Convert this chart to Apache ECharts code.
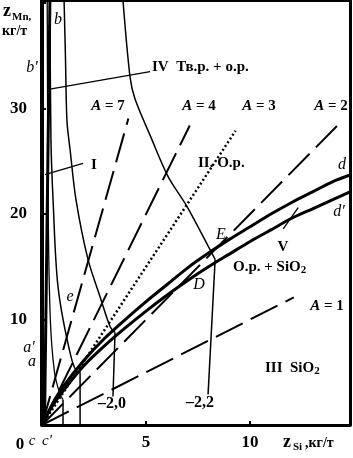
<!DOCTYPE html>
<html><head><meta charset="utf-8">
<script src="https://cdn.jsdelivr.net/npm/echarts@6/dist/echarts.min.js"></script>
<style>html,body{margin:0;padding:0;background:#fff}#c{width:353px;height:458px}</style>
</head><body><div id="c"></div>
<script>
// ---- data ----
const xTickValues = [5, 10];
const yTickValues = [10, 20, 30];
const aLabels = ['A = 7', 'A = 4', 'A = 3', 'A = 2', 'A = 1'];
const isoLabels = ['–2,0', '–2,2'];
const regionLabels = ['I', 'II. О.р.', 'III  SiO', 'IV  Тв.р. + о.р.', 'V', 'О.р. + SiO'];

const lineA7 = [[0, 0], [4.15, 29.05]];
const lineA4 = [[0, 0], [7.1, 28.4]];
const lineA3 = [[0, 0], [9.3, 27.9]];
const lineA2 = [[0, 0], [14.3, 28.6]];
const lineA1 = [[0, 0], [12.1, 12.1]];

const curveD = [[0,0],[0.5,2.0],[1,3.6],[2,6.1],[3,8.2],[4,10.0],[5,11.7],[6,13.3],[7,14.9],[8,16.3],[9,17.6],[10,18.8],[11,20.0],[12,21.1],[13,22.1],[14,23.1],[14.8,23.7]];
const curveD2 = [[0,0],[0.5,1.8],[1,3.2],[2,5.6],[3,7.5],[4,9.2],[5,10.8],[6,12.3],[7,13.7],[8,15.0],[9,16.2],[10,17.4],[11,18.5],[12,19.6],[13,20.5],[14,21.4],[14.8,22.1]];
const lineB2 = [[0.12, 0], [0.38, 40.2]];

const iso20Upper = [[1.06,40.3],[1.13,34.6],[1.20,28.8],[1.35,26.1],[1.63,21.4],[2.21,15.7],[2.75,12.4],[3.27,9.34],[3.51,8.77]];
const iso20Lower = [[3.51,8.77],[3.41,2.7]];
const iso22Upper = [[3.89,40.3],[4.23,33.0],[4.47,30.9],[5.25,27.2],[6.06,23.55],[6.97,20.7],[8.08,16.6],[8.32,15.7]];
const iso22Lower = [[8.32,15.7],[7.98,2.9]];
const isoC2Upper = [[0.38,40.3],[0.43,27.1],[0.53,21.4],[0.77,13.1],[1.39,6.5],[1.73,5.0],[1.83,5.0]];
const isoC2Lower = [[1.83,5.0],[1.83,0]];
const isoCUpper = [[0.25,40.3],[0.3,20],[0.4,10],[0.6,5],[0.85,3.0],[1.01,2.4]];
const isoCLower = [[1.01,2.4],[1.01,0]];

const leaderIV = [[0.24,31.8],[5.19,33.5]];
const leaderI = [[0.14,23.75],[1.97,24.8]];
const leaderV = [[11.59,18.6],[12.31,20.6]];

// ---- chart ----
const SERIF = '"Liberation Serif", "DejaVu Serif", serif';
function ln(data, width, type, smooth) {
  return {type:'line', data:data, showSymbol:false, symbol:'none', smooth: smooth || false,
    silent:true, animation:false, xAxisIndex:0, yAxisIndex:0,
    lineStyle:{color:'#000', width:width, type:type || 'solid', cap: type==='dotted' ? 'butt' : 'butt'}};
}
const DASH = [30, 9];
const DOT = [2, 2.5];

function txt(x, y, text, font, align, extra) {
  const s = Object.assign({text:text, font:font, fill:'#000',
    textAlign:align || 'center', align:align || 'center',
    textVerticalAlign:'middle', verticalAlign:'middle'}, extra || {});
  return {type:'text', x:x, y:y, silent:true, style:s};
}
const F_BOLD = (n) => 'bold ' + n + 'px ' + SERIF;
const F_IT = (n) => 'italic ' + n + 'px ' + SERIF;
const richA = {i:{font:'italic bold 15px ' + SERIF, fill:'#000'}};
const richSub = {m:{font:F_BOLD(15), fill:'#000', lineHeight:18, verticalAlign:'middle'},
                 s:{font:F_BOLD(11), fill:'#000', lineHeight:18, verticalAlign:'bottom'}};
function aText(s){ return s.replace('A', '{i|A}'); }

const chart = echarts.init(document.getElementById('c'), null, {renderer:'canvas'});
chart.setOption({
  animation:false,
  backgroundColor:'#fff',
  grid:{left:42, right:3, top:1, bottom:33},
  xAxis:[{
    type:'value', min:0, max:14.8, interval:5,
    axisLine:{onZero:false, lineStyle:{color:'#000', width:3}},
    axisTick:{inside:true, length:4, lineStyle:{color:'#000', width:2}},
    splitLine:{show:false},
    axisLabel:{margin:9, color:'#000', fontFamily:SERIF, fontWeight:'bold', fontSize:17,
      showMaxLabel:false,
      formatter:(v)=> xTickValues.indexOf(v) >= 0 ? String(v) : ''}
  },{
    type:'value', position:'top', min:0, max:1,
    axisLine:{onZero:false, lineStyle:{color:'#000', width:2}},
    axisTick:{show:false}, axisLabel:{show:false}, splitLine:{show:false}
  }],
  yAxis:[{
    type:'value', min:0, max:40.2, interval:10,
    axisLine:{onZero:false, lineStyle:{color:'#000', width:4}},
    axisTick:{inside:true, length:4, lineStyle:{color:'#000', width:2}},
    splitLine:{show:false},
    axisLabel:{margin:15, color:'#000', fontFamily:SERIF, fontWeight:'bold', fontSize:17,
      showMaxLabel:false,
      formatter:(v)=> yTickValues.indexOf(v) >= 0 ? String(v) : ''}
  },{
    type:'value', position:'right', min:0, max:1,
    axisLine:{onZero:false, lineStyle:{color:'#000', width:3}},
    axisTick:{show:false}, axisLabel:{show:false}, splitLine:{show:false}
  }],
  series:[
    ln(lineA7, 2, DASH), ln(lineA4, 2, DASH), ln(lineA3, 2.5, DOT), ln(lineA2, 2, DASH), ln(lineA1, 2, DASH),
    ln(curveD, 3, 'solid', 0.3), ln(curveD2, 3, 'solid', 0.3),
    ln(lineB2, 3),
    ln(iso20Upper, 1.5, 'solid', 0.3), ln(iso20Lower, 1.5),
    ln(iso22Upper, 1.5, 'solid', 0.3), ln(iso22Lower, 1.5),
    ln(isoC2Upper, 1.5, 'solid', 0.3), ln(isoC2Lower, 1.5),
    ln(isoCUpper, 1.3, 'solid', 0.3), ln(isoCLower, 1.5),
    ln(leaderIV, 1.3), ln(leaderI, 1.3), ln(leaderV, 1.3)
  ],
  graphic:[
    // axis titles
    txt(3, 11, 'z', F_BOLD(18), 'left'),
    txt(12, 17, 'Mn,', F_BOLD(11), 'left'),
    txt(2, 31, 'кг/т', F_BOLD(14), 'left'),
    txt(283, 442, 'z', F_BOLD(18), 'left'),
    txt(293, 447, 'Si', F_BOLD(11), 'left'),
    txt(305, 443, ',кг/т', F_BOLD(14), 'left'),
    txt(20, 445, '0', F_BOLD(17)),
    txt(32, 441, 'c', F_IT(15)),
    txt(47, 441, 'c′', F_IT(15)),
    // curve letters
    txt(58, 20, 'b', F_IT(16)),
    txt(32, 68, 'b′', F_IT(16)),
    txt(29, 348, 'a′', F_IT(16)),
    txt(32, 362, 'a', F_IT(16)),
    txt(70, 297, 'e', F_IT(16)),
    txt(342, 165, 'd', F_IT(16)),
    txt(339, 212, 'd′', F_IT(16)),
    txt(221, 235, 'E', F_IT(16)),
    txt(199, 285, 'D', F_IT(16)),
    // A labels
    txt(108, 106, aText(aLabels[0]), F_BOLD(15), 'center', {rich:richA}),
    txt(199, 106, aText(aLabels[1]), F_BOLD(15), 'center', {rich:richA}),
    txt(259, 106, aText(aLabels[2]), F_BOLD(15), 'center', {rich:richA}),
    txt(331, 106, aText(aLabels[3]), F_BOLD(15), 'center', {rich:richA}),
    txt(327, 306, aText(aLabels[4]), F_BOLD(15), 'center', {rich:richA}),
    // iso labels
    txt(112, 404, isoLabels[0], F_BOLD(16)),
    txt(200, 403, isoLabels[1], F_BOLD(16)),
    // region labels
    txt(94, 165, regionLabels[0], F_BOLD(15)),
    txt(198, 163, regionLabels[1], F_BOLD(15), 'left'),
    txt(265, 368, '{m|' + regionLabels[2] + '}{s|2}', F_BOLD(15), 'left', {rich:richSub}),
    txt(152, 67, regionLabels[3], F_BOLD(15), 'left'),
    txt(283, 247, regionLabels[4], F_BOLD(15)),
    txt(233, 267, '{m|' + regionLabels[5] + '}{s|2}', F_BOLD(15), 'left', {rich:richSub})
  ]
});
</script></body></html>
